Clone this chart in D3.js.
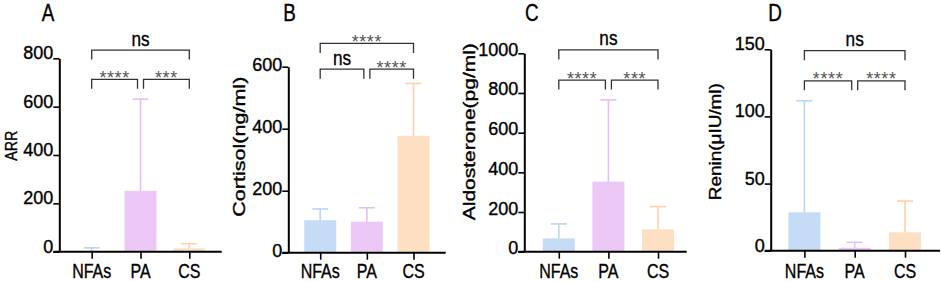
<!DOCTYPE html>
<html><head><meta charset="utf-8">
<script src="https://cdn.jsdelivr.net/npm/d3@7"></script>
<style>body{margin:0;background:#fff} svg{display:block} .heavy{stroke:#000;stroke-width:0.35px;paint-order:stroke}</style>
</head><body><svg id="chart" width="941" height="282"></svg>
<script>
// ---- data ----
const categories = ["NFAs", "PA", "CS"];
const panelLetters = ["A", "B", "C", "D"];
const yTitles = ["ARR", "Cortisol(ng/ml)", "Aldosterone(pg/ml)", "Renin(\u03bcIU/ml)"];

const arrMean = [3, 252, 14];
const arrSD = [13, 379, 19];
const cortisolMean = [105, 100, 377];
const cortisolSD = [36, 45, 169];
const aldosteroneMean = [67, 353, 113];
const aldosteroneSD = [73, 412, 114];
const reninMean = [28.6, 2.2, 13.7];
const reninSD = [83, 4, 23.3];

const arrTicks = [0, 200, 400, 600, 800];
const cortisolTicks = [0, 200, 400, 600];
const aldosteroneTicks = [0, 200, 400, 600, 800, 1000];
const reninTicks = [0, 50, 100, 150];

// comparisons: [group a, group b, bracket level (axis units), label]
const arrSig = [[0, 1, 713, "****"], [1, 2, 713, "***"], [0, 2, 834, "ns"]];
const cortisolSig = [[0, 1, 592, "ns"], [1, 2, 592, "****"], [0, 2, 675, "****"]];
const aldosteroneSig = [[0, 1, 865, "****"], [1, 2, 865, "***"], [0, 2, 1017, "ns"]];
const reninSig = [[0, 1, 126.5, "****"], [1, 2, 126.5, "****"], [0, 2, 149, "ns"]];

// ---- styles / layout ----
const barColors = ["#c6dcf6", "#ecc8f7", "#fde0c2"];
const errColors = ["#b9d4f6", "#e8bcf5", "#fdd3a9"];
const FONT = "'Liberation Sans', Arial, sans-serif";

const layout = [
  {yAxisX: 59.3, cat0: 91.7, cat2: 189.3, xEnd: 221.7, y0: 251.7, yTop: 58.3, titleX: 17, titleY: 145.8, titleLen: 30, letterX: 41.7, tickDy: 0.5},
  {yAxisX: 288.3, cat0: 320.2, cat2: 413.5, xEnd: 445.7, y0: 252.7, yTop: 66.7, titleX: 244.5, titleY: 146.7, titleLen: 140, letterX: 283.3, tickDy: 4},
  {yAxisX: 524.3, cat0: 558.8, cat2: 658, xEnd: 686.7, y0: 251.7, yTop: 53.3, titleX: 474.5, titleY: 131.7, titleLen: 177, letterX: 525, tickDy: 2},
  {yAxisX: 770.7, cat0: 804.4, cat2: 905, xEnd: 940, y0: 250.7, yTop: 49.3, titleX: 720.5, titleY: 141.7, titleLen: 117, letterX: 768.3, tickDy: 0.5}
];

const panels = [
  {mean: arrMean, sd: arrSD, ticks: arrTicks, sig: arrSig},
  {mean: cortisolMean, sd: cortisolSD, ticks: cortisolTicks, sig: cortisolSig},
  {mean: aldosteroneMean, sd: aldosteroneSD, ticks: aldosteroneTicks, sig: aldosteroneSig},
  {mean: reninMean, sd: reninSD, ticks: reninTicks, sig: reninSig}
];

const svg = d3.select("#chart");

panels.forEach((p, i) => {
  const L = layout[i];
  const g = svg.append("g");
  const yMax = d3.max(p.ticks);
  const y = d3.scaleLinear().domain([0, yMax]).range([L.y0, L.yTop]);
  const x = d3.scalePoint().domain(categories).range([L.cat0, L.cat2]);
  const barW = 32, capW = 16;

  const rows = categories.map((c, k) => ({c, k, mean: p.mean[k], sd: p.sd[k]}));

  // bars
  g.selectAll("rect.bar").data(rows).join("rect")
    .attr("x", d => x(d.c) - barW / 2)
    .attr("width", barW)
    .attr("y", d => y(d.mean))
    .attr("height", d => L.y0 - y(d.mean))
    .attr("fill", d => barColors[d.k]);

  // error bars (upper only)
  const eb = g.selectAll("g.err").data(rows).join("g")
    .attr("stroke", d => errColors[d.k]).attr("stroke-width", 1.6);
  eb.append("line")
    .attr("x1", d => x(d.c)).attr("x2", d => x(d.c))
    .attr("y1", d => y(d.mean)).attr("y2", d => y(d.mean + d.sd));
  eb.append("line")
    .attr("x1", d => x(d.c) - capW / 2).attr("x2", d => x(d.c) + capW / 2)
    .attr("y1", d => y(d.mean + d.sd)).attr("y2", d => y(d.mean + d.sd));

  // y axis
  const ya = g.append("g").attr("transform", `translate(${L.yAxisX},0)`)
    .call(d3.axisLeft(y).tickValues(p.ticks).tickFormat(d3.format("d"))
      .tickSize(6).tickSizeOuter(0).tickPadding(0));
  ya.select(".domain").attr("stroke", "#000").attr("stroke-width", 2);
  ya.selectAll(".tick line").attr("stroke", "#000").attr("stroke-width", 1.6);
  ya.selectAll(".tick text")
    .attr("dy", null).attr("y", L.tickDy).attr("x", -6)
    .attr("fill", "#000").attr("class", "heavy")
    .style("font-family", FONT).style("font-size", "18px");

  // x axis
  g.append("line")
    .attr("x1", L.yAxisX - 6).attr("x2", L.xEnd)
    .attr("y1", L.y0).attr("y2", L.y0)
    .attr("stroke", "#000").attr("stroke-width", 2);
  const xa = g.append("g").attr("transform", `translate(0,${L.y0})`)
    .call(d3.axisBottom(x).tickSize(7).tickSizeOuter(0));
  xa.select(".domain").remove();
  xa.selectAll(".tick line").attr("stroke", "#000").attr("stroke-width", 1.6);
  xa.selectAll(".tick text").remove();
  g.selectAll("text.cat").data(categories).join("text")
    .attr("class", "heavy")
    .attr("transform", c => `translate(${x(c)},278) scale(0.8,1)`)
    .attr("text-anchor", "middle")
    .style("font-family", FONT).style("font-size", "20px").attr("fill", "#000")
    .text(c => c);

  // y title
  g.append("text")
    .attr("class", "heavy")
    .attr("transform", `translate(${L.titleX},${L.titleY}) rotate(-90)`)
    .attr("text-anchor", "middle")
    .attr("textLength", L.titleLen).attr("lengthAdjust", "spacingAndGlyphs")
    .style("font-family", FONT).style("font-size", "16px").attr("fill", "#000")
    .text(yTitles[i]);

  // panel letter
  g.append("text")
    .attr("class", "heavy")
    .attr("transform", `translate(${L.letterX},21) scale(0.82,1)`)
    .style("font-family", FONT).style("font-size", "23px").attr("fill", "#000")
    .text(panelLetters[i]);

  // significance brackets
  const legs = 9.5, gap = 3;
  p.sig.forEach(([a, b, level, label]) => {
    const xa0 = x(categories[a]) + (a === 1 ? gap : 0);
    const xb0 = x(categories[b]) - (b === 1 ? gap : 0);
    const yy = y(level);
    g.append("path")
      .attr("d", `M${xa0},${yy + legs}V${yy}H${xb0}V${yy + legs}`)
      .attr("fill", "none").attr("stroke", "#333").attr("stroke-width", 1.3);
    const cx = (xa0 + xb0) / 2;
    if (label === "ns") {
      g.append("text")
        .attr("class", "heavy")
        .attr("transform", `translate(${cx},${yy - 4.5}) scale(0.82,1)`)
        .attr("text-anchor", "middle")
        .style("font-family", FONT).style("font-size", "21px").attr("fill", "#000")
        .text(label);
    } else {
      g.append("text")
        .attr("x", cx).attr("y", yy + 4.5)
        .attr("text-anchor", "middle")
        .attr("letter-spacing", 0.6)
        .style("font-family", FONT).style("font-size", "18px")
        .attr("fill", "#555")
        .text(label);
    }
  });
});
</script>
</body></html>
